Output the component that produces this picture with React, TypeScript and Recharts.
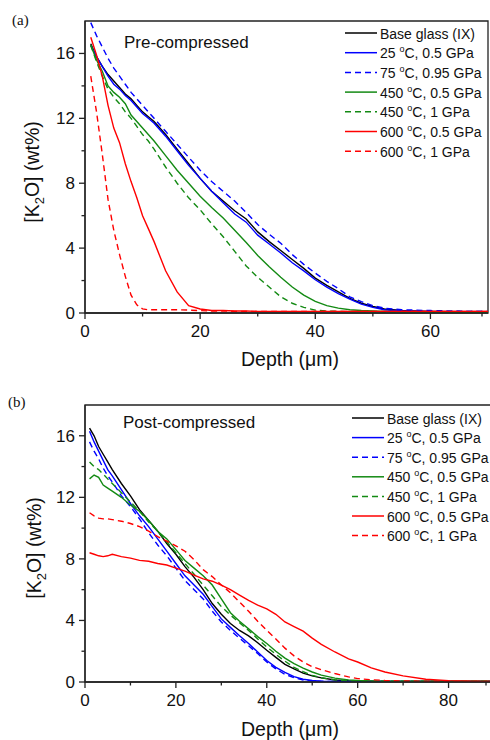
import { LineChart, Line, XAxis, YAxis, Legend, ReferenceArea, Label } from 'recharts';

// ---- data ----
const seriesNames = [
  'Base glass (IX)',
  '25 °C, 0.5 GPa',
  '75 °C, 0.95 GPa',
  '450 °C, 0.5 GPa',
  '450 °C, 1 GPa',
  '600 °C, 0.5 GPa',
  '600 °C, 1 GPa',
];

// (a) pre-compressed
const preDepth = [1, 2, 3, 4, 5, 6, 7, 8, 9, 10, 11, 12, 14, 16, 18, 20, 22, 24, 26, 28, 30, 32, 34, 36, 38, 40, 42, 44, 46, 48, 50, 52, 55, 60, 65, 70];
const preBase = [16.6, 15.8, 15.2, 14.7, 14.3, 13.9, 13.5, 13.2, 12.8, 12.4, 12.1, 11.8, 11.0, 10.1, 9.2, 8.3, 7.5, 6.9, 6.3, 5.8, 5.0, 4.4, 3.85, 3.3, 2.75, 2.15, 1.7, 1.3, 0.9, 0.6, 0.4, 0.25, 0.15, 0.1, 0.08, 0.08];
const pre25 = [16.5, 15.8, 15.2, 14.6, 14.1, 13.8, 13.4, 13.1, 12.7, 12.3, 12.0, 11.7, 10.9, 10.0, 9.1, 8.3, 7.5, 6.8, 6.1, 5.6, 4.8, 4.25, 3.7, 3.1, 2.6, 2.05, 1.6, 1.2, 0.85, 0.55, 0.35, 0.2, 0.12, 0.08, 0.07, 0.06];
const pre75 = [17.9, 17.1, 16.4, 15.7, 15.1, 14.6, 14.1, 13.6, 13.2, 12.8, 12.4, 12.0, 11.2, 10.4, 9.6, 8.8, 8.1, 7.5, 6.9, 6.2, 5.45, 4.85, 4.3, 3.6, 3.0, 2.46, 1.95, 1.5, 1.0, 0.7, 0.45, 0.3, 0.2, 0.15, 0.12, 0.1];
const pre450a = [16.5, 15.6, 14.9, 14.0, 13.6, 13.3, 12.9, 12.2, 11.8, 11.4, 11.0, 10.6, 9.7, 8.8, 8.0, 7.2, 6.5, 5.85, 5.1, 4.35, 3.55, 2.85, 2.2, 1.6, 1.1, 0.72, 0.45, 0.3, 0.2, 0.15, 0.12, 0.1, 0.08, 0.06, 0.05, 0.05];
const pre450b = [16.5, 15.5, 14.6, 13.8, 13.3, 12.9, 12.4, 12.0, 11.5, 11.0, 10.6, 10.1, 9.0, 8.0, 7.1, 6.36, 5.5, 4.7, 3.8, 2.9, 2.2, 1.6, 1.0, 0.6, 0.35, 0.18, 0.12, 0.1, 0.08, 0.07, 0.06, 0.05, 0.05, 0.05, 0.05, 0.05];
const pre600a = [17.0, 15.9, 14.6, 12.8, 11.4, 10.5, 9.2, 8.1, 7.1, 6.0, 5.2, 4.4, 2.6, 1.3, 0.45, 0.25, 0.15, 0.15, 0.12, 0.12, 0.1, 0.1, 0.1, 0.1, 0.1, 0.1, 0.1, 0.1, 0.1, 0.1, 0.1, 0.1, 0.1, 0.1, 0.1, 0.1];
const pre600b = [14.6, 12.4, 9.8, 7.0, 5.1, 3.6, 2.26, 1.1, 0.5, 0.25, 0.2, 0.2, 0.2, 0.2, 0.18, 0.15, 0.12, 0.12, 0.1, 0.1, 0.1, 0.1, 0.1, 0.1, 0.1, 0.1, 0.1, 0.1, 0.1, 0.1, 0.1, 0.1, 0.1, 0.1, 0.1, 0.1];

// (b) post-compressed
const postDepth = [1, 2, 3, 4, 5, 6, 8, 10, 12, 14, 16, 18, 20, 22, 24, 26, 28, 30, 32, 34, 36, 38, 40, 42, 44, 46, 48, 50, 52, 55, 58, 60, 63, 66, 70, 75, 80, 85, 90];
const postBase = [16.5, 16.0, 15.3, 14.8, 14.3, 13.8, 12.9, 12.1, 11.2, 10.5, 9.8, 9.0, 8.3, 7.5, 6.8, 6.0, 5.1, 4.4, 3.8, 3.35, 3.0, 2.55, 2.06, 1.6, 1.15, 0.85, 0.58, 0.4, 0.27, 0.13, 0.08, 0.06, 0.05, 0.04, 0.04, 0.04, 0.04, 0.04, 0.04];
const post25 = [16.3, 15.6, 15.0, 14.4, 13.8, 13.4, 12.5, 11.6, 10.8, 10.1, 9.3, 8.5, 7.7, 6.9, 6.3, 5.7, 4.9, 4.1, 3.55, 3.0, 2.5, 1.95, 1.4, 0.95, 0.62, 0.35, 0.18, 0.1, 0.06, 0.04, 0.03, 0.03, 0.03, 0.03, 0.03, 0.03, 0.03, 0.03, 0.03];
const post75 = [15.6, 15.0, 14.5, 13.9, 13.4, 13.0, 12.1, 11.4, 10.6, 9.7, 8.9, 8.2, 7.4, 6.6, 6.0, 5.4, 4.6, 3.9, 3.35, 2.85, 2.35, 1.85, 1.3, 0.85, 0.5, 0.28, 0.12, 0.07, 0.05, 0.03, 0.03, 0.03, 0.03, 0.03, 0.03, 0.03, 0.03, 0.03, 0.03];
const post450a = [13.2, 13.45, 13.3, 12.8, 12.6, 12.4, 12.0, 11.5, 11.1, 10.5, 9.8, 9.3, 8.6, 7.9, 7.4, 6.9, 6.3, 5.4, 4.5, 3.95, 3.45, 2.95, 2.5, 2.0, 1.55, 1.2, 0.9, 0.65, 0.45, 0.25, 0.14, 0.1, 0.07, 0.06, 0.05, 0.05, 0.05, 0.05, 0.05];
const post450b = [14.3, 14.0, 13.8, 13.5, 13.2, 12.9, 12.3, 11.7, 11.1, 10.4, 9.8, 9.1, 8.4, 7.7, 7.0, 6.3, 5.6, 4.9, 4.35, 3.85, 3.35, 2.8, 2.28, 1.8, 1.35, 0.95, 0.68, 0.43, 0.28, 0.14, 0.08, 0.06, 0.05, 0.05, 0.05, 0.05, 0.05, 0.05, 0.05];
const post600a = [8.4, 8.3, 8.2, 8.15, 8.2, 8.3, 8.15, 8.05, 7.9, 7.85, 7.7, 7.6, 7.4, 7.2, 6.95, 6.7, 6.55, 6.3, 6.0, 5.65, 5.3, 5.0, 4.75, 4.4, 3.9, 3.6, 3.3, 2.85, 2.45, 1.95, 1.5, 1.3, 0.92, 0.65, 0.4, 0.18, 0.09, 0.05, 0.04];
const post600b = [11.0, 10.8, 10.65, 10.6, 10.6, 10.55, 10.45, 10.3, 10.1, 9.8, 9.45, 9.15, 8.85, 8.5, 7.95, 7.3, 6.85, 6.3, 5.8, 5.2, 4.6, 3.95, 3.36, 2.8, 2.2, 1.7, 1.3, 1.0, 0.8, 0.55, 0.33, 0.22, 0.15, 0.1, 0.07, 0.05, 0.04, 0.04, 0.04];

const preTicksX = [0, 10, 20, 30, 40, 50, 60, 70];
const postTicksX = [0, 10, 20, 30, 40, 50, 60, 70, 80, 90];
const ticksY = [0, 2, 4, 6, 8, 10, 12, 14, 16];

// ---- styling ----
const FONT = '"Liberation Sans", Arial, sans-serif';
const AXIS = '#222';
const lineStyles = [
  { color: '#000000', dash: undefined },
  { color: '#0000ff', dash: undefined },
  { color: '#0000ff', dash: '6 4' },
  { color: '#138a13', dash: undefined },
  { color: '#138a13', dash: '6 4' },
  { color: '#ff0000', dash: undefined },
  { color: '#ff0000', dash: '6 4' },
];

const toRows = (depth: number[], vals: number[]) => depth.map((d, i) => ({ depth: d, k2o: vals[i] }));

const preRows = [preBase, pre25, pre75, pre450a, pre450b, pre600a, pre600b].map((v) => toRows(preDepth, v));
const postRows = [postBase, post25, post75, post450a, post450b, post600a, post600b].map((v) => toRows(postDepth, v));

const makeXTick = (major: number) => (props: any) => {
  const { x, y, payload } = props;
  const isMajor = payload.value % major === 0;
  return (
    <g>
      <line x1={x} y1={y} x2={x} y2={y + (isMajor ? 6 : 3.5)} stroke={AXIS} strokeWidth={1.3} />
      {isMajor && (
        <text x={x} y={y + 23.5} textAnchor="middle" fontSize={17} fontFamily={FONT} fill="#111">
          {payload.value}
        </text>
      )}
    </g>
  );
};

const YTick = (props: any) => {
  const { x, y, payload } = props;
  const isMajor = payload.value % 4 === 0;
  return (
    <g>
      <line x1={x} y1={y} x2={x - (isMajor ? 6 : 3.5)} y2={y} stroke={AXIS} strokeWidth={1.3} />
      {isMajor && (
        <text x={x - 10} y={y + 6} textAnchor="end" fontSize={17} fontFamily={FONT} fill="#111">
          {payload.value}
        </text>
      )}
    </g>
  );
};

const degreeText = (s: string) => {
  const idx = s.indexOf('°');
  if (idx < 0) return s;
  return (
    <>
      {s.slice(0, idx)}
      <tspan fontSize={9} dy={-6}>o</tspan>
      <tspan dy={6}>{s.slice(idx + 1)}</tspan>
    </>
  );
};

const makeLegend = (rowH: number) => () => (
  <svg width={150} height={rowH * 7 + 10} style={{ overflow: 'visible' }}>
    {seriesNames.map((name, i) => {
      const y = 8 + i * rowH;
      return (
        <g key={name}>
          <line x1={0} y1={y} x2={32} y2={y} stroke={lineStyles[i].color} strokeWidth={1.5} strokeDasharray={lineStyles[i].dash} />
          <text x={35} y={y + 5.5} fontSize={14} fontFamily={FONT} fill="#111">
            {degreeText(name)}
          </text>
        </g>
      );
    })}
  </svg>
);

const yLabel = (cx: number, cy: number) => () => (
  <text x={cx} y={cy} transform={`rotate(-90 ${cx} ${cy})`} textAnchor="middle" fontSize={19.5} fontFamily={FONT} fill="#111">
    [K<tspan fontSize={13} dy={5}>2</tspan>
    <tspan dy={-5}>O] (wt%)</tspan>
  </text>
);

const xLabel = (cx: number, cy: number) => () => (
  <text x={cx} y={cy} textAnchor="middle" fontSize={19.5} fontFamily={FONT} fill="#111">
    Depth (μm)
  </text>
);

const Panel = ({ rows, width, margin, xMax, xTicks, xAxisH, legendPos, rowH, tag, tagPos, title, titlePos, yLab, xLab }: any) => (
  <LineChart width={width} height={370} margin={margin}>
    <XAxis
      type="number"
      dataKey="depth"
      domain={[0, xMax]}
      ticks={xTicks}
      height={xAxisH}
      tickSize={0}
      tickMargin={0}
      tickLine={false}
      tick={makeXTick(20)}
      axisLine={{ stroke: AXIS, strokeWidth: 1.3 }}
      allowDataOverflow
    >
      <Label content={xLabel(xLab[0], xLab[1])} />
    </XAxis>
    <YAxis
      type="number"
      domain={[0, 18]}
      ticks={ticksY}
      width={85}
      tickSize={0}
      tickMargin={0}
      tickLine={false}
      tick={YTick}
      axisLine={{ stroke: AXIS, strokeWidth: 1.3 }}
      allowDataOverflow
    >
      <Label content={yLabel(yLab[0], yLab[1])} />
    </YAxis>
    <ReferenceArea x1={0} x2={xMax} y1={0} y2={18} fill="none" stroke={AXIS} strokeWidth={1.3} />
    {rows.map((data: any[], i: number) => (
      <Line
        key={seriesNames[i]}
        data={data}
        dataKey="k2o"
        name={seriesNames[i]}
        type="linear"
        stroke={lineStyles[i].color}
        strokeWidth={1.4}
        strokeDasharray={lineStyles[i].dash}
        dot={false}
        activeDot={false}
        isAnimationActive={false}
      />
    ))}
    <Legend
      layout="vertical"
      align="center"
      verticalAlign="middle"
      content={makeLegend(rowH)}
      wrapperStyle={{ left: legendPos[0], top: legendPos[1], width: 150, margin: 0, padding: 0 }}
    />
    <text x={tagPos[0]} y={tagPos[1]} fontSize={15} fontFamily='"Liberation Serif", "Times New Roman", serif' fill="#111">
      {tag}
    </text>
    <text x={titlePos[0]} y={titlePos[1]} fontSize={17} fontFamily={FONT} fill="#111">
      {title}
    </text>
  </LineChart>
);

export default function App() {
  return (
    <div style={{ position: 'absolute', left: 0, top: 0, width: 490, height: 740, overflow: 'hidden', background: '#fff' }}>
      <div style={{ position: 'absolute', left: 0, top: 0 }}>
        <Panel
          rows={preRows}
          width={490}
          margin={{ top: 21, right: 2, bottom: 0, left: 0 }}
          xMax={70}
          xTicks={preTicksX}
          xAxisH={57}
          legendPos={[345, 25]}
          rowH={19.7}
          tag="(a)"
          tagPos={[12, 25]}
          title="Pre-compressed"
          titlePos={[124, 48]}
          yLab={[39, 172]}
          xLab={[290, 366]}
        />
      </div>
      <div style={{ position: 'absolute', left: 0, top: 370 }}>
        <Panel
          rows={postRows}
          width={494}
          margin={{ top: 35, right: 0, bottom: 0, left: 0 }}
          xMax={90}
          xTicks={postTicksX}
          xAxisH={58}
          legendPos={[352, 40]}
          rowH={19.6}
          tag="(b)"
          tagPos={[8, 37]}
          title="Post-compressed"
          titlePos={[123, 58]}
          yLab={[41, 178]}
          xLab={[290, 366]}
        />
      </div>
    </div>
  );
}
